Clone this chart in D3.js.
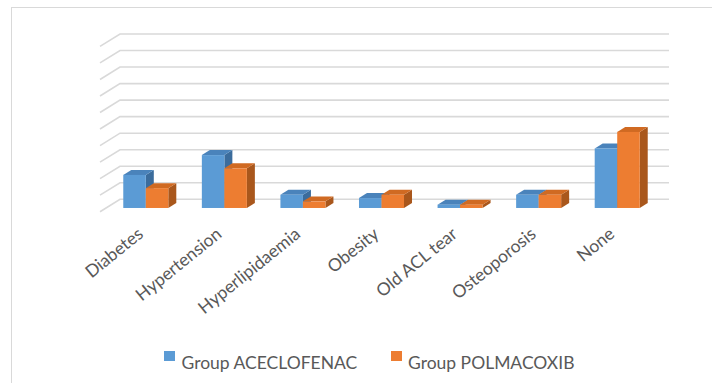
<!DOCTYPE html>
<html>
<head>
<meta charset="utf-8">
<script src="https://cdn.jsdelivr.net/npm/d3@7"></script>
<style>
  html, body { margin: 0; padding: 0; background: #fff; }
  svg { display: block; }
  text { font-family: Lato, "Open Sans", sans-serif; fill: #595959; }
</style>
</head>
<body>
<svg id="chart" width="712" height="383"></svg>
<script>
// Comorbidities by treatment group (patient counts)
const categories = ["Diabetes", "Hypertension", "Hyperlipidaemia", "Obesity", "Old ACL tear", "Osteoporosis", "None"];
const seriesNames = ["Group ACECLOFENAC", "Group POLMACOXIB"];
const aceclofenac = [10, 16, 4, 3, 1, 4, 18];
const polmacoxib = [6, 12, 2, 4, 1, 4, 23];
const gridTicks = [0, 5, 10, 15, 20, 25, 30, 35, 40, 45, 50];

const palette = [
  { front: "#5B9BD5", top: "#4A83BB", side: "#3B6C9C" },
  { front: "#ED7D31", top: "#D06A22", side: "#A9571C" }
];

const svg = d3.select("#chart");
const W = 712, H = 383;

// outer chart frame
svg.append("rect")
  .attr("x", 11.5).attr("y", 7.5)
  .attr("width", W + 10).attr("height", H + 10)
  .attr("fill", "#fff").attr("stroke", "#d9d9d9").attr("stroke-width", 1);

// back wall geometry and oblique depth
const wallLeft = 120, wallRight = 669;
const depth = { dx: -20, dy: 12.4 };           // back wall -> front edge of floor
const y = d3.scaleLinear().domain([0, 50]).range([199.3, 34]);

const grid = svg.append("g").attr("fill", "none").attr("stroke", "#d9d9d9").attr("stroke-width", 1.6);
gridTicks.forEach(t => {
  const gy = y(t);
  grid.append("path")
    .attr("d", `M${wallLeft + depth.dx},${gy + depth.dy}L${wallLeft},${gy}L${wallRight},${gy}`);
});

// bars: front face sits 70% of the way from the back wall toward the front
const frontFrac = 0.7, barDepthFrac = 0.4;
const off = { dx: depth.dx * frontFrac, dy: depth.dy * frontFrac };
const bd = { dx: -depth.dx * barDepthFrac, dy: -depth.dy * barDepthFrac };

const x0 = d3.scaleBand().domain(categories)
  .range([106.5, 656.5]).paddingInner(0.427).paddingOuter(0.2135);
const x1 = d3.scaleBand().domain(seriesNames).range([0, x0.bandwidth()]);

const values = [aceclofenac, polmacoxib];
const bars = svg.append("g");
categories.forEach((c, i) => {
  seriesNames.forEach((s, k) => {
    const v = values[k][i];
    const xl = x0(c) + x1(s);
    const w = x1.bandwidth();
    const yb = y(0) + off.dy;
    const yt = y(v) + off.dy;
    const col = palette[k];
    const g = bars.append("g");
    // side face
    g.append("path")
      .attr("d", `M${xl + w},${yt}L${xl + w + bd.dx},${yt + bd.dy}L${xl + w + bd.dx},${yb + bd.dy}L${xl + w},${yb}Z`)
      .attr("fill", col.side);
    // top face
    g.append("path")
      .attr("d", `M${xl},${yt}L${xl + bd.dx},${yt + bd.dy}L${xl + w + bd.dx},${yt + bd.dy}L${xl + w},${yt}Z`)
      .attr("fill", col.top);
    // front face
    g.append("rect")
      .attr("x", xl).attr("y", yt)
      .attr("width", w).attr("height", yb - yt)
      .attr("fill", col.front);
  });
});

// category labels, rotated
const labels = svg.append("g").attr("font-size", 17.5);
categories.forEach(c => {
  const cx = x0(c) + x0.bandwidth() / 2;
  labels.append("text")
    .attr("text-anchor", "end")
    .attr("transform", `translate(${cx - 1.5},${236}) rotate(-39)`)
    .text(c);
});

// legend
const legend = svg.append("g").attr("font-size", 17.5);
const legendItems = [
  { name: seriesNames[0], sx: 164, tx: 181.5 },
  { name: seriesNames[1], sx: 391, tx: 408 }
];
legendItems.forEach((it, k) => {
  legend.append("rect")
    .attr("x", it.sx).attr("y", 351)
    .attr("width", 11).attr("height", 10)
    .attr("fill", palette[k].front);
  legend.append("text")
    .attr("x", it.tx).attr("y", 369)
    .text(it.name);
});
</script>
</body>
</html>
